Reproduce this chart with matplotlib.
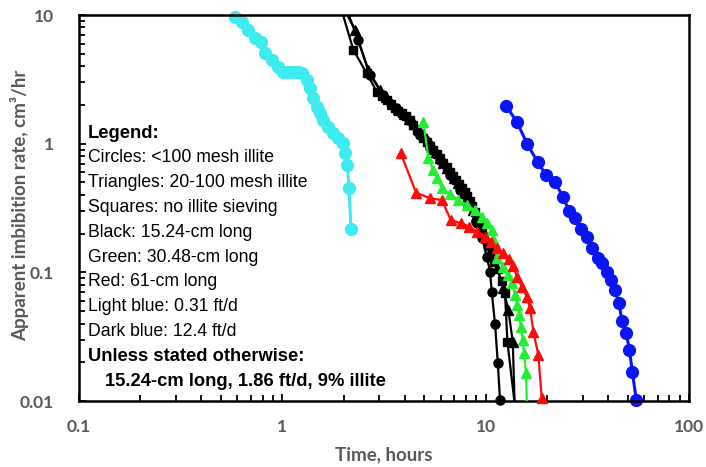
import matplotlib
matplotlib.use('Agg')
import matplotlib.pyplot as plt
from matplotlib.ticker import LogLocator, NullFormatter, FixedLocator, FixedFormatter

# ---------------- data (time in hours, rate in cm3/hr) ----------------
lb_x = [0.585, 0.631, 0.681, 0.735, 0.786, 0.822, 0.887, 0.956, 1.011, 1.070, 1.133,
        1.199, 1.254, 1.318, 1.369, 1.421, 1.477, 1.533, 1.592, 1.684, 1.782, 1.886,
        1.995, 2.034, 2.088, 2.129, 2.177]
lb_y = [9.70, 8.87, 7.64, 6.59, 6.20, 5.04, 4.47, 3.97, 3.63, 3.63, 3.63,
        3.63, 3.52, 3.13, 2.69, 2.25, 1.94, 1.72, 1.53, 1.355, 1.205, 1.10,
        1.007, 0.842, 0.683, 0.450, 0.216]

db_x = [12.60, 14.22, 16.04, 18.05, 19.82, 21.95, 23.95, 25.72, 27.52, 29.46, 31.54,
        33.49, 35.60, 37.50, 39.55, 41.39, 43.30, 45.16, 46.88, 49.05, 50.92, 52.68, 55.12]
db_y = [1.97, 1.483, 0.989, 0.717, 0.571, 0.501, 0.388, 0.300, 0.263, 0.217, 0.189,
        0.154, 0.130, 0.1177, 0.1013, 0.0873, 0.0730, 0.0575, 0.0419, 0.0340, 0.0251,
        0.0167, 0.0101]

bc_x = [2.034, 2.357, 2.701, 3.129, 3.625, 4.200, 4.757, 5.327, 5.967, 6.681, 7.482,
        8.194, 8.970, 9.601, 10.12, 10.51, 10.71, 11.12, 11.47, 11.77]
bc_y = [12.0, 6.39, 3.42, 2.39, 1.894, 1.528, 1.168, 0.926, 0.747, 0.571, 0.437,
        0.334, 0.2464, 0.185, 0.1324, 0.1013, 0.0708, 0.0397, 0.0199, 0.0101]

bs_x = [1.922, 2.235, 2.601, 2.913, 3.09, 3.263, 3.42, 3.584, 3.72, 3.867, 4.05, 4.248,
        4.41, 4.583, 4.76, 4.938, 5.13, 5.327, 5.53, 5.747, 5.96, 6.194, 6.43, 6.681,
        6.91, 7.152, 7.40, 7.654, 7.87, 8.100, 8.33, 8.571, 8.82, 9.073, 9.33, 9.601,
        10.27, 11.00, 12.00, 12.45, 12.79, 13.84]
bs_y = [12.0, 5.35, 3.52, 2.535, 2.35, 2.185, 2.03, 1.884, 1.80, 1.723, 1.63, 1.528,
        1.40, 1.278, 1.19, 1.107, 1.03, 0.960, 0.895, 0.832, 0.77, 0.708, 0.655, 0.603,
        0.56, 0.522, 0.487, 0.453, 0.42, 0.392, 0.36, 0.328, 0.296, 0.265, 0.24, 0.2135,
        0.1603, 0.1204, 0.0857, 0.0688, 0.0289, 0.0100]

bt_x = [1.966, 2.279, 2.640, 3.024, 3.24, 3.464, 3.71, 3.968, 4.2, 4.444, 4.7, 4.977,
        5.2, 5.450, 5.7, 5.967, 6.2, 6.458, 6.72, 6.992, 7.28, 7.568, 7.83, 8.100, 8.38,
        8.670, 8.97, 9.280, 9.6, 9.932, 10.63, 11.38, 12.18, 12.93, 13.59, 13.87]
bt_y = [12.0, 7.64, 3.74, 2.614, 2.30, 2.035, 1.86, 1.701, 1.56, 1.423, 1.28, 1.148,
        1.05, 0.960, 0.86, 0.774, 0.71, 0.647, 0.59, 0.5415, 0.497, 0.453, 0.415, 0.3785,
        0.34, 0.3053, 0.275, 0.2464, 0.218, 0.1918, 0.1493, 0.1082, 0.0756, 0.0510,
        0.0289, 0.0100]

gt_x = [4.938, 5.226, 5.530, 5.787, 6.083, 6.681, 7.338, 8.072, 8.868, 9.568, 10.12,
        10.71, 11.00, 11.34, 12.22, 12.93, 13.44, 13.95, 14.32, 14.65, 14.89, 15.23,
        15.45, 15.80, 15.93]
gt_y = [1.482, 0.770, 0.6247, 0.5384, 0.4503, 0.4066, 0.3652, 0.334, 0.3027, 0.2709,
        0.2407, 0.2117, 0.1754, 0.1287, 0.1107, 0.0954, 0.0823, 0.0667, 0.0558, 0.0467,
        0.0378, 0.0298, 0.0235, 0.0164, 0.0100]

rt_x = [3.823, 4.546, 5.327, 6.083, 6.734, 7.568, 8.315, 9.103, 9.932, 10.63, 11.34,
        12.22, 12.96, 13.64, 14.27, 15.05, 15.93, 16.54, 17.16, 18.16, 18.87]
rt_y = [0.842, 0.4162, 0.3765, 0.3652, 0.2554, 0.2407, 0.2265, 0.2071, 0.1894, 0.1732,
        0.1549, 0.1407, 0.1271, 0.1121, 0.0926, 0.0774, 0.0648, 0.0526, 0.0346, 0.0228,
        0.0105]

x_ticks = [0.1, 1, 10, 100]
x_tick_labels = ['0.1', '1', '10', '100']
y_ticks = [0.01, 0.1, 1, 10]
y_tick_labels = ['0.01', '0.1', '1', '10']

legend_lines = [
    ("Legend:", True, 0),
    ("Circles: <100 mesh illite", False, 0),
    ("Triangles: 20-100 mesh illite", False, 0),
    ("Squares: no illite sieving", False, 0),
    ("Black: 15.24-cm long", False, 0),
    ("Green: 30.48-cm long", False, 0),
    ("Red: 61-cm long", False, 0),
    ("Light blue: 0.31 ft/d", False, 0),
    ("Dark blue: 12.4 ft/d", False, 0),
    ("Unless stated otherwise:", True, 0),
    ("15.24-cm long, 1.86 ft/d, 9% illite", True, 1),
]

# ---------------- figure ----------------
W, H = 706, 467
fig = plt.figure(figsize=(W / 100, H / 100), dpi=100)
ax = fig.add_axes([79 / W, 1 - 401 / H, 610 / W, 386 / H])
ax.set_xscale('log')
ax.set_yscale('log')
ax.set_xlim(0.1, 100)
ax.set_ylim(0.01, 10)

LIGHT = '#3DEBF0'
DARK = '#0A14F5'
GREEN = '#22EE33'
RED = '#FF0A0A'
BLACK = '#000000'


def series(x, y, color, marker, ms, z, mark_last=True, lw=1.6):
    ax.plot(x, y, '-', color=color, lw=lw, zorder=z, clip_on=True)
    xs = [v for v, w in zip(x, y) if w <= 10.0]
    ys = [w for w in y if w <= 10.0]
    if not mark_last:
        xs, ys = xs[:-1], ys[:-1]
    ax.plot(xs, ys, ls='none', marker=marker, ms=ms, color=color,
            markeredgecolor=color, zorder=z + 0.5, clip_on=False)


series(lb_x, lb_y, LIGHT, 'o', 8.5, 2, lw=2.2)
series(db_x, db_y, DARK, 'o', 8.5, 2, lw=2.2)
series(bc_x, bc_y, BLACK, 'o', 6.5, 3)
series(bs_x, bs_y, BLACK, 's', 6.0, 3, mark_last=False)
series(bt_x, bt_y, BLACK, '^', 6.5, 3, mark_last=False)
series(gt_x, gt_y, GREEN, '^', 7.0, 4, mark_last=False)
series(rt_x, rt_y, RED, '^', 7.0, 5)

# ---------------- axes styling ----------------
for s in ax.spines.values():
    s.set_linewidth(1.8)
    s.set_color('black')

ax.xaxis.set_major_locator(FixedLocator(x_ticks))
ax.xaxis.set_major_formatter(FixedFormatter(x_tick_labels))
ax.yaxis.set_major_locator(FixedLocator(y_ticks))
ax.yaxis.set_major_formatter(FixedFormatter(y_tick_labels))
ax.xaxis.set_minor_locator(LogLocator(base=10, subs=range(2, 10), numticks=20))
ax.yaxis.set_minor_locator(LogLocator(base=10, subs=range(2, 10), numticks=20))
ax.xaxis.set_minor_formatter(NullFormatter())
ax.yaxis.set_minor_formatter(NullFormatter())

ax.tick_params(which='both', direction='in', top=False, right=False, width=1.3,
               color='black')
ax.tick_params(which='major', length=5)
ax.tick_params(which='minor', length=4)
ax.tick_params(axis='x', which='major', pad=13, labelsize=12.5, labelcolor='#595959')
ax.tick_params(axis='y', which='major', pad=18, labelsize=12.5, labelcolor='#595959')
for lab in ax.get_xticklabels() + ax.get_yticklabels():
    lab.set_fontfamily('Lato')
    lab.set_fontweight('bold')

ax.set_xlabel('Time, hours', fontsize=13.5, fontweight='bold', color='#595959',
              family='Lato', labelpad=8)
fig.text(20 / W, 1 - 205 / H, 'Apparent imbibition rate, cm³/hr', rotation=90,
         ha='center', va='center', fontsize=13.5, fontweight='bold',
         color='#595959', family='Lato')

# ---------------- text legend ----------------
y0 = 133
step = 24.8
for i, (txt, bold, indent) in enumerate(legend_lines):
    py = y0 + i * step
    px = 88 + (17 if indent else 0)
    ax.text((px - 79) / 610, (401 - py) / 386, txt, transform=ax.transAxes,
            ha='left', va='center', fontsize=13.2 if bold else 12.7,
            fontweight='bold' if bold else 'normal',
            family='Liberation Sans', color='black', zorder=10)

fig.savefig('out.png', dpi=100)
